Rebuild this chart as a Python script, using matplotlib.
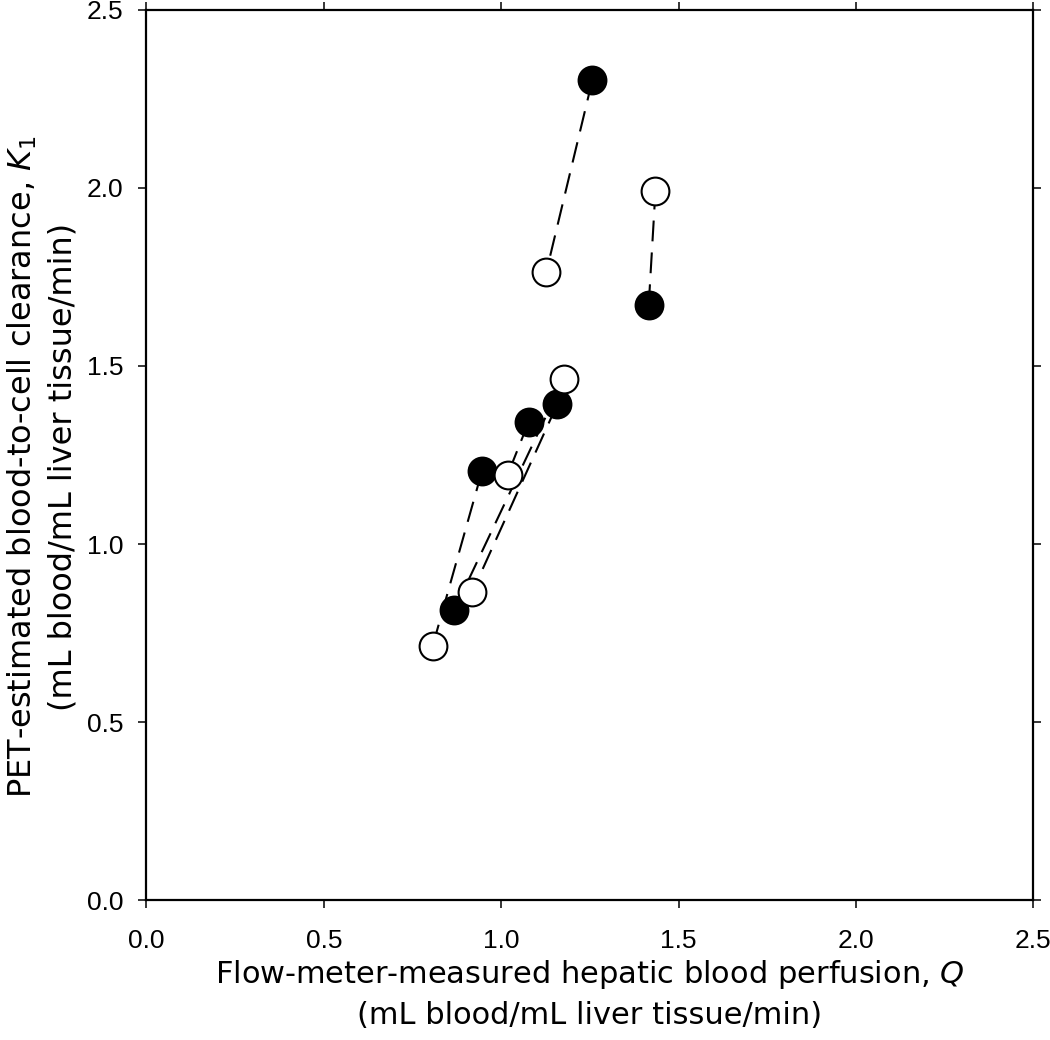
import matplotlib
matplotlib.use("Agg")
import matplotlib.pyplot as plt

# Paired measurements: each filled point is joined to one open point
filled_q = [1.257, 1.416, 0.946, 0.868, 1.158, 1.078]
filled_k1 = [2.303, 1.671, 1.205, 0.815, 1.392, 1.344]
open_q = [1.127, 1.435, 0.807, 1.176, 0.918, 1.018]
open_k1 = [1.763, 1.992, 0.714, 1.463, 0.864, 1.194]

ticks = [0.0, 0.5, 1.0, 1.5, 2.0, 2.5]
tick_labels = ["0.0", "0.5", "1.0", "1.5", "2.0", "2.5"]

plt.rcParams["font.family"] = ["Liberation Sans", "DejaVu Sans"]
plt.rcParams["mathtext.fontset"] = "dejavusans"

fig = plt.figure(figsize=(10.5, 10.4), dpi=100)
ax = fig.add_axes([0.1395, 0.1346, 0.8445, 0.8558])

lw = 1.5
# --- connecting dashed lines ---
for xf, yf, xo, yo in zip(filled_q, filled_k1, open_q, open_k1):
    ax.plot([xf, xo], [yf, yo], color="black", linewidth=lw,
            dashes=(15 / lw, 8 / lw), zorder=1)

# --- markers ---
ax.plot(filled_q, filled_k1, linestyle="none", marker="o", markersize=20,
        markerfacecolor="black", markeredgecolor="black",
        markeredgewidth=1.5, zorder=3)
ax.plot(open_q, open_k1, linestyle="none", marker="o", markersize=20,
        markerfacecolor="white", markeredgecolor="black",
        markeredgewidth=1.5, zorder=4)

ax.set_xlim(0, 2.5)
ax.set_ylim(0, 2.5)
ax.set_xticks(ticks)
ax.set_xticklabels(tick_labels)
ax.set_yticks(ticks)
ax.set_yticklabels(tick_labels)

for s in ax.spines.values():
    s.set_linewidth(1.6)
ax.tick_params(which="both", direction="out", length=5.8, width=1.1,
               top=True, right=True, labelsize=19)
ax.tick_params(axis="x", pad=15)
ax.tick_params(axis="y", pad=11)

ax.set_xlabel("Flow-meter-measured hepatic blood perfusion, $\\mathit{Q}$\n"
              "(mL blood/mL liver tissue/min)", family="DejaVu Sans",
              fontsize=22, labelpad=4, linespacing=1.4)
ax.set_ylabel("PET-estimated blood-to-cell clearance, $\\mathit{K_1}$\n"
              "(mL blood/mL liver tissue/min)", family="DejaVu Sans",
              fontsize=23, linespacing=1.35)
ax.yaxis.set_label_coords(-0.077, 0.487)

fig.savefig("out.png", dpi=100)
